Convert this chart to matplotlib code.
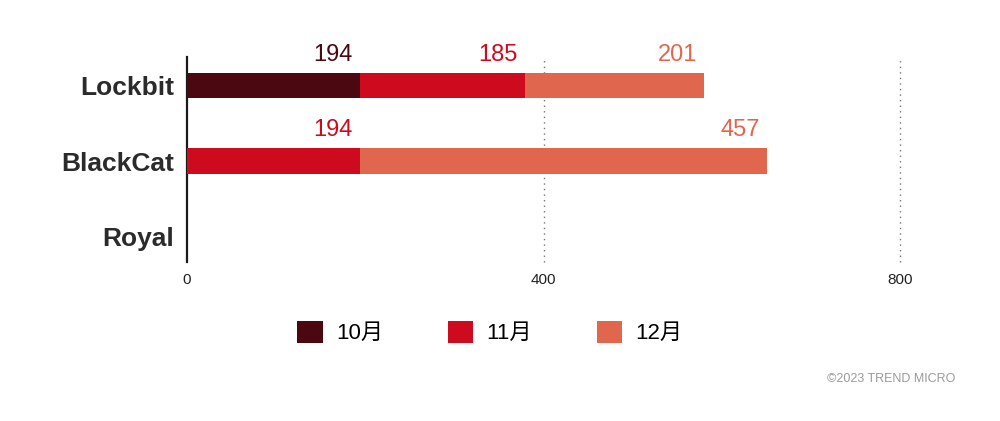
import matplotlib
matplotlib.use("Agg")
import matplotlib.pyplot as plt
from matplotlib.patches import Patch
import numpy as np

categories = ["Lockbit", "BlackCat", "Royal"]
months = ["10月", "11月", "12月"]
oct_vals = [194, 0, 0]
nov_vals = [185, 194, 0]
dec_vals = [201, 457, 0]
colors = ["#4B0810", "#CE0A1F", "#E0674E"]
xticks = [0, 400, 800]

fam = ["Liberation Sans", "Noto Sans CJK JP", "DejaVu Sans"]
plt.rcParams["font.family"] = fam

fig = plt.figure(figsize=(10, 4.21), dpi=100)
ax = fig.add_axes([0.187, 1 - 262 / 421, 0.9 - 0.187, (262 - 57) / 421])

y = np.arange(len(categories))
series = [oct_vals, nov_vals, dec_vals]
left = np.zeros(len(categories))
for vals, col in zip(series, colors):
    vals = np.array(vals, dtype=float)
    ax.barh(y, vals, left=left, height=0.33, color=col, zorder=3)
    for yi, (l, v) in enumerate(zip(left, vals)):
        if v > 0:
            ax.annotate(f"{int(v)}", xy=(l + v, yi), xytext=(-5, 22),
                        textcoords="offset points", ha="right", va="center",
                        fontsize=17, color=col)
    left = left + vals

ax.set_xlim(0, 800)
ax.set_ylim(2.33, -0.37)
ax.set_yticks(y)
ax.set_yticklabels(categories, fontsize=19, fontweight="bold", color="#2b2b2b")
ax.set_xticks(xticks)
ax.set_xticklabels([str(t) for t in xticks], fontsize=11, color="#222222")
ax.tick_params(axis="both", length=0)
ax.tick_params(axis="y", pad=9)
ax.tick_params(axis="x", pad=8)
for s in ["top", "right", "bottom"]:
    ax.spines[s].set_visible(False)
ax.spines["left"].set_linewidth(1.6)
ax.spines["left"].set_color("#1a1a1a")
for t in xticks[1:]:
    ax.axvline(t, color="#777777", linestyle=(0, (1, 3)), linewidth=1,
               zorder=1, clip_on=False)

handles = [Patch(facecolor=c, edgecolor="none") for c in colors]
fig.legend(handles, months, loc="center", bbox_to_anchor=(0.49, 0.21), ncol=3,
           frameon=False, fontsize=16, handlelength=1.15, handleheight=1.15,
           columnspacing=2.9, handletextpad=0.6)

fig.text(0.955, 0.1, "©2023 TREND MICRO", ha="right", va="center",
         fontsize=9, color="#9a9a9a")

fig.savefig("out.png", dpi=100)
